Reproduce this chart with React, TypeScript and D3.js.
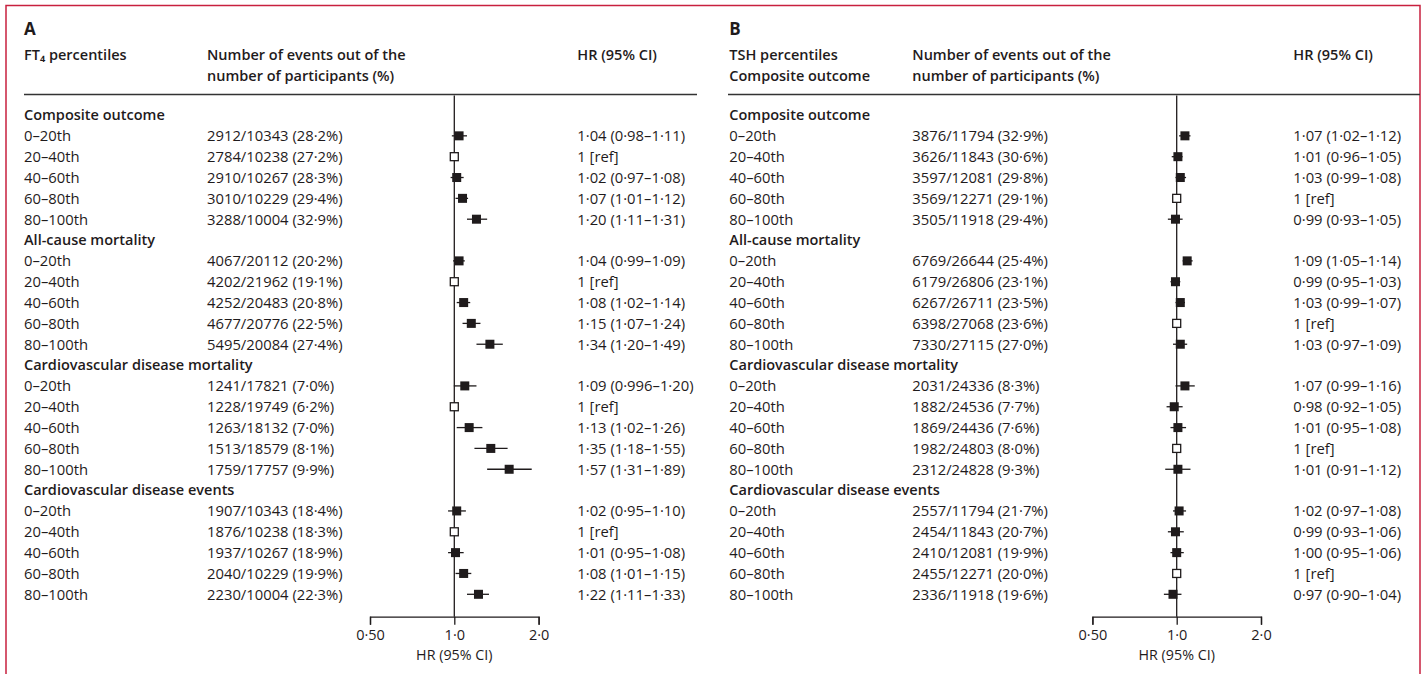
import React, { useEffect, useRef } from 'react';
import * as d3 from 'd3';

// row labels
const groups = [
  'Composite outcome',
  'All-cause mortality',
  'Cardiovascular disease mortality',
  'Cardiovascular disease events',
];
const percentiles = ['0–20th', '20–40th', '40–60th', '60–80th', '80–100th'];
const axisTicks = [0.5, 1, 2];
const axisTickLabels = ['0·50', '1·0', '2·0'];

// panel A: FT4 percentiles, one entry per group, five percentiles each
const ft4Events = [
  [2912, 2784, 2910, 3010, 3288],
  [4067, 4202, 4252, 4677, 5495],
  [1241, 1228, 1263, 1513, 1759],
  [1907, 1876, 1937, 2040, 2230],
];
const ft4Participants = [
  [10343, 10238, 10267, 10229, 10004],
  [20112, 21962, 20483, 20776, 20084],
  [17821, 19749, 18132, 18579, 17757],
  [10343, 10238, 10267, 10229, 10004],
];
const ft4Hr = [
  [1.04, 1, 1.02, 1.07, 1.2],
  [1.04, 1, 1.08, 1.15, 1.34],
  [1.09, 1, 1.13, 1.35, 1.57],
  [1.02, 1, 1.01, 1.08, 1.22],
];
const ft4Lo = [
  [0.98, null, 0.97, 1.01, 1.11],
  [0.99, null, 1.02, 1.07, 1.2],
  [0.996, null, 1.02, 1.18, 1.31],
  [0.95, null, 0.95, 1.01, 1.11],
];
const ft4Hi = [
  [1.11, null, 1.08, 1.12, 1.31],
  [1.09, null, 1.14, 1.24, 1.49],
  [1.2, null, 1.26, 1.55, 1.89],
  [1.1, null, 1.08, 1.15, 1.33],
];

// panel B: TSH percentiles
const tshEvents = [
  [3876, 3626, 3597, 3569, 3505],
  [6769, 6179, 6267, 6398, 7330],
  [2031, 1882, 1869, 1982, 2312],
  [2557, 2454, 2410, 2455, 2336],
];
const tshParticipants = [
  [11794, 11843, 12081, 12271, 11918],
  [26644, 26806, 26711, 27068, 27115],
  [24336, 24536, 24436, 24803, 24828],
  [11794, 11843, 12081, 12271, 11918],
];
const tshHr = [
  [1.07, 1.01, 1.03, 1, 0.99],
  [1.09, 0.99, 1.03, 1, 1.03],
  [1.07, 0.98, 1.01, 1, 1.01],
  [1.02, 0.99, 1.0, 1, 0.97],
];
const tshLo = [
  [1.02, 0.96, 0.99, null, 0.93],
  [1.05, 0.95, 0.99, null, 0.97],
  [0.99, 0.92, 0.95, null, 0.91],
  [0.97, 0.93, 0.95, null, 0.9],
];
const tshHi = [
  [1.12, 1.05, 1.08, null, 1.05],
  [1.14, 1.03, 1.07, null, 1.09],
  [1.16, 1.05, 1.08, null, 1.12],
  [1.08, 1.06, 1.06, null, 1.04],
];

const ink = '#1f1b1c';
const font = "'Open Sans', sans-serif";

const dot = (s) => s.replace('.', '·');
const fmtHr = (v) => dot(Math.round(v * 100) / 100 === v ? v.toFixed(2) : String(v));

const rowY = d3.scaleLinear().domain([0, 23]).range([115, 594.3]);
const axisY = 616.7;

const Panel = ({ cfg, events, participants, hr, lo, hi }) => {
  const axisRef = useRef();
  const x = d3
    .scaleLog()
    .domain([0.5, 2])
    .range([cfg.refX - 84.3, cfg.refX + 84.3]);

  useEffect(() => {
    const g = d3.select(axisRef.current);
    g.selectAll('*').remove();
    const axis = d3
      .axisBottom(x)
      .tickValues(axisTicks)
      .tickFormat((d, i) => axisTickLabels[i])
      .tickSize(8)
      .tickSizeOuter(8)
      .tickPadding(5);
    g.call(axis);
    g.select('.domain').attr('stroke', ink).attr('stroke-width', 1.3);
    g.selectAll('.tick line').attr('stroke', ink).attr('stroke-width', 1.3);
    g.selectAll('.tick text')
      .attr('fill', ink)
      .style('font-family', font)
      .style('font-size', '14.5px');
  }, [cfg]);

  const rows = [];
  groups.forEach((grp, gi) => {
    rows.push({ type: 'head', label: grp, i: gi * 6 });
    percentiles.forEach((p, pi) => {
      rows.push({
        type: 'row',
        label: p,
        i: gi * 6 + pi + 1,
        ev: events[gi][pi],
        n: participants[gi][pi],
        hr: hr[gi][pi],
        lo: lo[gi][pi],
        hi: hi[gi][pi],
      });
    });
  });

  const txt = { fontFamily: font, fontSize: 14.8, fill: ink };
  const bold = { ...txt, fontSize: 14.5, fontWeight: 600 };

  return (
    <g>
      <text x={cfg.labelX} y={34.5} style={{ ...txt, fontSize: 17, fontWeight: 700 }}>
        {cfg.letter}
      </text>
      {cfg.head.map((h, i) => (
        <text key={i} x={cfg.labelX} y={60 + i * 21} style={bold}>
          {h}
        </text>
      ))}
      <text x={cfg.numX} y={60} style={bold}>
        Number of events out of the
      </text>
      <text x={cfg.numX} y={81} style={bold}>
        number of participants (%)
      </text>
      <text x={cfg.hrX} y={60} style={bold}>
        HR (95% CI)
      </text>
      <line x1={cfg.ruleX1} x2={cfg.ruleX2} y1={94.5} y2={94.5} stroke="#333" strokeWidth={1.5} />
      <line x1={x(1)} x2={x(1)} y1={95.5} y2={axisY} stroke={ink} strokeWidth={1.3} />

      {rows.map((r) =>
        r.type === 'head' ? (
          <text key={r.i} x={cfg.labelX} y={rowY(r.i)} dy="0.36em" style={bold}>
            {r.label}
          </text>
        ) : (
          <g key={r.i}>
            <text x={cfg.labelX} y={rowY(r.i)} dy="0.36em" style={txt}>
              {r.label}
            </text>
            <text x={cfg.numX} y={rowY(r.i)} dy="0.36em" style={txt}>
              {`${r.ev}/${r.n} (${dot(((r.ev / r.n) * 100).toFixed(1))}%)`}
            </text>
            <text x={cfg.hrX} y={rowY(r.i)} dy="0.36em" style={txt}>
              {r.lo == null ? '1 [ref]' : `${fmtHr(r.hr)} (${fmtHr(r.lo)}–${fmtHr(r.hi)})`}
            </text>
            {r.lo != null && (
              <line
                x1={x(r.lo)}
                x2={x(r.hi)}
                y1={rowY(r.i)}
                y2={rowY(r.i)}
                stroke={ink}
                strokeWidth={1.3}
              />
            )}
            {r.lo == null ? (
              <rect
                x={x(r.hr) - 4}
                y={rowY(r.i) - 4}
                width={8}
                height={8}
                fill="#fff"
                stroke={ink}
                strokeWidth={1.3}
              />
            ) : (
              <rect x={x(r.hr) - 4.5} y={rowY(r.i) - 4.5} width={9} height={9} fill={ink} />
            )}
          </g>
        )
      )}

      <g ref={axisRef} transform={`translate(0,${axisY})`} />
      <text x={x(1)} y={655} dy="0.35em" textAnchor="middle" style={{ ...txt, fontSize: 14.3 }}>
        HR (95% CI)
      </text>
    </g>
  );
};

const panelA = {
  letter: 'A',
  head: ['FT₄ percentiles'],
  labelX: 24,
  numX: 207,
  refX: 454.3,
  hrX: 577.3,
  ruleX1: 24,
  ruleX2: 697,
};
const panelB = {
  letter: 'B',
  head: ['TSH percentiles', 'Composite outcome'],
  labelX: 729.3,
  numX: 912.3,
  refX: 1176.7,
  hrX: 1293.3,
  ruleX1: 728,
  ruleX2: 1420,
};

export default function App() {
  return (
    <svg
      width={1424}
      height={674}
      style={{ position: 'absolute', left: 0, top: 0, background: '#fff' }}
    >
      <rect x={0} y={0} width={1424} height={674} fill="#fff" />
      <path d="M6,680V5.5H1420V680" fill="none" stroke="#c8203f" strokeWidth={1.5} />
      <Panel
        cfg={panelA}
        events={ft4Events}
        participants={ft4Participants}
        hr={ft4Hr}
        lo={ft4Lo}
        hi={ft4Hi}
      />
      <Panel
        cfg={panelB}
        events={tshEvents}
        participants={tshParticipants}
        hr={tshHr}
        lo={tshLo}
        hi={tshHi}
      />
    </svg>
  );
}
